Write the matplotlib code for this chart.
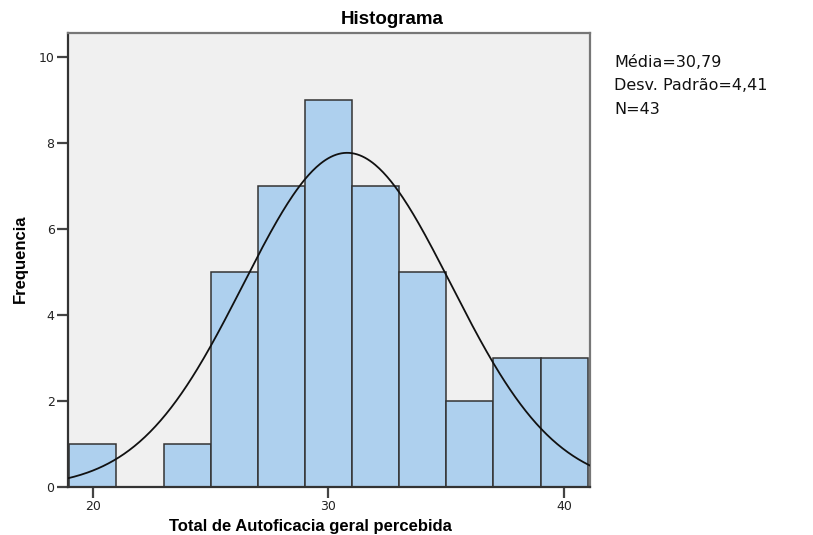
import numpy as np
import matplotlib
matplotlib.use("Agg")
import matplotlib.pyplot as plt

# Data
bin_edges = [19, 21, 23, 25, 27, 29, 31, 33, 35, 37, 39, 41]
counts = [1, 0, 1, 5, 7, 9, 7, 5, 2, 3, 3]
mean_val = 30.79
sd_val = 4.41
n_val = 43
x_ticks = [20, 30, 40]
y_ticks = [0, 2, 4, 6, 8, 10]
title = "Histograma"
xlabel = "Total de Autoficacia geral percebida"
ylabel = "Frequencia"
stats_lines = ["Média=30,79", "Desv. Padrão=4,41", "N=43"]

W, H = 813, 535
fig = plt.figure(figsize=(W / 100, H / 100), dpi=100)
fig.patch.set_facecolor("white")

ax_l, ax_r, ax_t, ax_b = 67.7, 590, 33.3, 487.3
ax = fig.add_axes([ax_l / W, 1 - ax_b / H, (ax_r - ax_l) / W, (ax_b - ax_t) / H])
ax.set_facecolor("#f0f0f0")

widths = np.diff(bin_edges)
ax.bar(bin_edges[:-1], counts, width=widths, align="edge",
       color="#aed0ee", edgecolor="#333333", linewidth=1.1, zorder=2)

xmin, xmax = 18.93, 41.1
xs = np.linspace(xmin, xmax, 400)
bw = bin_edges[1] - bin_edges[0]
ys = n_val * bw / (sd_val * np.sqrt(2 * np.pi)) * np.exp(-0.5 * ((xs - mean_val) / sd_val) ** 2)
ax.plot(xs, ys, color="#111111", linewidth=1.3, zorder=3)

ax.set_xlim(xmin, xmax)
ax.set_ylim(0, 10.56)
ax.set_xticks(x_ticks)
ax.set_yticks(y_ticks)
ax.tick_params(axis="both", direction="out", length=8, width=1.6, color="#444444",
               labelsize=9, labelcolor="#222222", pad=1.5)
for side in ["left", "bottom"]:
    ax.spines[side].set_color("#333333")
    ax.spines[side].set_linewidth(1.6)
for side in ["top", "right"]:
    ax.spines[side].set_color("#777777")
    ax.spines[side].set_linewidth(1.6)

fig.text(392 / W, 1 - 20 / H, title, ha="center", va="center",
         fontsize=13.5, fontweight="bold", family="Liberation Sans")
fig.text(310 / W, 1 - 527 / H, xlabel, ha="center", va="center",
         fontsize=12, fontweight="bold", family="Liberation Sans")
fig.text(20 / W, 1 - 259 / H, ylabel, ha="center", va="center", rotation=90,
         fontsize=12, fontweight="bold", family="Liberation Sans")

for i, line in enumerate(stats_lines):
    fig.text(614 / W, 1 - (62 + 24 * i) / H, line, ha="left", va="center",
             fontsize=11.5, family="DejaVu Sans", color="#111111")

fig.savefig("out.png", dpi=100)
